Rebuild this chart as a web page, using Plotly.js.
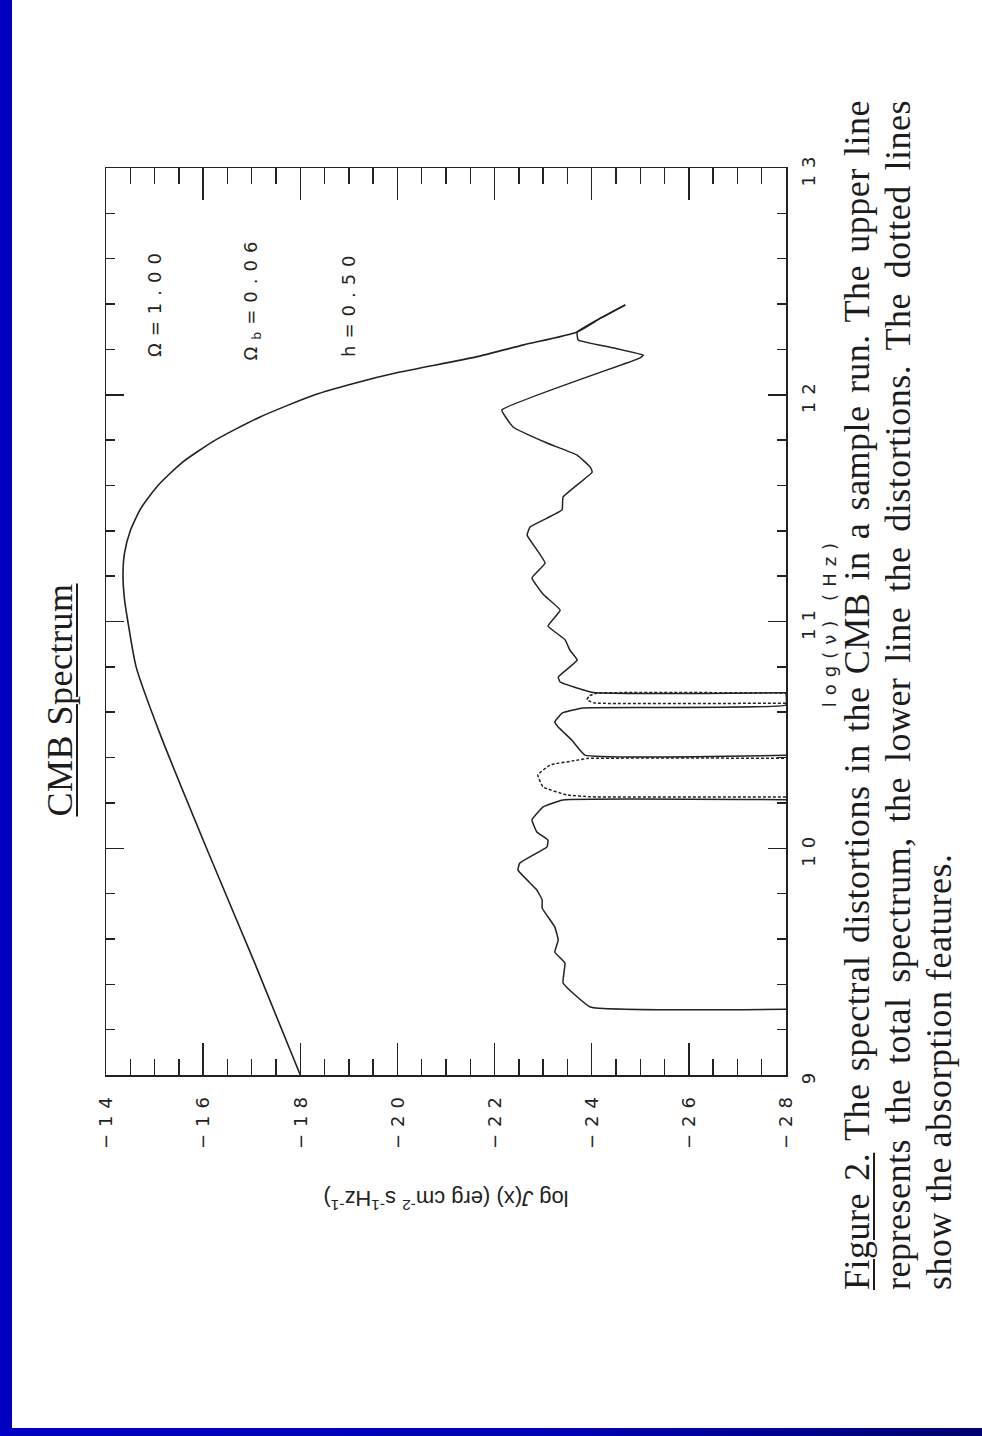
<!DOCTYPE html>
<html>
<head>
<meta charset="utf-8">
<script src="https://cdn.plot.ly/plotly-3.0.1.min.js"></script>
<style>
  html, body { margin: 0; padding: 0; background: #ffffff; width: 982px; height: 1436px; overflow: hidden; }
  #sheet {
    position: absolute; left: 0; top: 0; width: 1436px; height: 982px;
    transform-origin: 0 0; transform: translate(0, 1436px) rotate(-90deg);
    background: #ffffff;
  }
  #chart { position: absolute; left: 0; top: 0; width: 1436px; height: 982px; }
  .serif { position: absolute; font-family: "Liberation Serif", "Times New Roman", serif; font-size: 36px;
           line-height: 42px; color: #1c1c1c; letter-spacing: 0.5px; white-space: nowrap; }
  .heading { left: 586px; width: 300px; top: 39px; text-align: center; text-decoration: underline;
             text-underline-offset: 4px; text-decoration-thickness: 1.5px; }
  .cap { left: 146px; width: 1190px; }
  .cap.full { text-align: justify; text-align-last: justify; }
  .u { text-decoration: underline; text-underline-offset: 4px; text-decoration-thickness: 1.5px; }
  #sideband { position: absolute; left: 0; top: 0; width: 12px; height: 1436px; background: #0000c0; z-index: 5; }
  #footband { position: absolute; left: 0; top: 1428px; width: 982px; height: 8px; z-index: 5;
              background: linear-gradient(to right, #0000c4 0%, #0000b8 55%, #000070 100%); }
  /* wide-pitch plotting lettering */
  #chart .xtick text, #chart .ytick text, #chart text.annotation-text, #chart text.xtitle { letter-spacing: 7px; }
</style>
</head>
<body>
<div id="sheet">
  <div id="chart"></div>
  <div class="serif heading">CMB Spectrum</div>
  <div class="serif cap full" style="top:836px;"><span class="u">Figure 2.</span> The spectral distortions in the CMB in a sample run.  The upper line</div>
  <div class="serif cap full" style="top:877px;">represents the total spectrum, the lower line the distortions.  The dotted lines</div>
  <div class="serif cap" style="top:918px;">show the absorption features.</div>
</div>
<div id="sideband"></div>
<div id="footband"></div>

<script>
// log frequency (Hz) and log intensity of the total spectrum
const nuTotal = [9.0, 9.5, 10.0, 10.5, 10.8, 11.0, 11.1, 11.2, 11.3, 11.4, 11.5, 11.6, 11.7, 11.8, 11.9, 12.0, 12.05, 12.1, 12.166, 12.22, 12.277, 12.34, 12.396];
const jTotal  = [-18.0, -17.05, -16.07, -15.12, -14.62, -14.45, -14.38, -14.35, -14.38, -14.5, -14.72, -15.07, -15.56, -16.25, -17.15, -18.3, -19.1, -20.05, -21.6, -22.6, -23.7, -24.2, -24.69];

// distortion spectrum, split where it falls to the floor inside the absorption bands
const nuDistA = [9.29, 9.30, 9.406, 9.494, 9.542, 9.595, 9.653, 9.736, 9.772, 9.816, 9.904, 9.935, 10.006, 10.036, 10.072, 10.125, 10.182, 10.213, 10.214];
const jDistA  = [-28.0, -23.97, -23.41, -23.45, -23.24, -23.31, -23.24, -22.98, -22.98, -22.87, -22.48, -22.52, -23.08, -23.10, -22.87, -22.77, -23.0, -23.41, -28.0];
const nuDistB = [10.410, 10.411, 10.477, 10.535, 10.557, 10.596, 10.619, 10.632, 10.686];
const jDistB  = [-28.0, -23.86, -23.59, -23.31, -23.24, -23.39, -23.82, -28.0, -28.0];
const nuDistC = [10.686, 10.687, 10.733, 10.755, 10.830, 10.874, 10.92, 10.98, 11.05, 11.12, 11.192, 11.258, 11.381, 11.417, 11.456, 11.492, 11.549,
                 11.659, 11.681, 11.734, 11.787, 11.858, 11.933, 12.162, 12.175, 12.207, 12.242, 12.277, 12.34, 12.396];
const jDistC  = [-28.0, -24.03, -23.35, -23.31, -23.70, -23.55, -23.45, -23.1, -23.35, -23.0, -22.77, -23.04, -22.67, -22.73, -23.08, -23.39, -23.41,
                 -24.01, -23.97, -23.70, -23.08, -22.38, -22.15, -24.99, -25.06, -24.44, -23.72, -23.70, -24.2, -24.69];

// absorption feature profiles
const nuAbsA = [10.226, 10.227, 10.235, 10.27, 10.323, 10.367, 10.389, 10.396, 10.397];
const jAbsA  = [-28.0, -23.97, -23.49, -23.0, -22.89, -23.14, -23.72, -23.9, -28.0];
const nuAbsB = [10.640, 10.641, 10.655, 10.672, 10.684, 10.685];
const jAbsB  = [-28.0, -24.05, -23.9, -23.95, -24.1, -28.0];

// axis ticks
const nuTicks = [9, 10, 11, 12, 13];
const nuTickText = ['9', '10', '11', '12', '13'];
const jTicks = [-14, -16, -18, -20, -22, -24, -26, -28];
const jTickText = ['\u221214', '\u221216', '\u221218', '\u221220', '\u221222', '\u221224', '\u221226', '\u221228'];

// cosmological parameters of the run
const paramLabels = ['\u03A9=1.00', '\u03A9<sub>b</sub>=0.06', 'h=0.50'];
const paramLevels = [-15, -17, -19];

const ink = '#222222';
const plotFont = { family: 'DejaVu Sans, sans-serif', size: 18, color: ink };

function solid(x, y, w, smooth) {
  return { x: x, y: y, mode: 'lines', hoverinfo: 'skip',
           line: { color: ink, width: w, shape: 'spline', smoothing: smooth } };
}
function dotted(x, y) {
  return { x: x, y: y, mode: 'lines', hoverinfo: 'skip',
           line: { color: ink, width: 1.5, dash: '3px,2px', shape: 'spline', smoothing: 0.3 } };
}

const traces = [
  solid(nuTotal, jTotal, 1.6, 0.6),
  solid(nuDistA, jDistA, 1.5, 0.3),
  solid(nuDistB, jDistB, 1.5, 0.3),
  solid(nuDistC, jDistC, 1.5, 0.3),
  dotted(nuAbsA, jAbsA),
  dotted(nuAbsB, jAbsB)
];

const annotations = paramLabels.map((t, i) => ({
  text: t, x: 12.25, y: paramLevels[i], xref: 'x', yref: 'y',
  xanchor: 'left', yanchor: 'middle', showarrow: false, font: plotFont
}));

const layout = {
  width: 1436, height: 982,
  margin: { l: 361, r: 168, t: 106, b: 196, pad: 0 },
  paper_bgcolor: 'rgba(0,0,0,0)', plot_bgcolor: 'rgba(0,0,0,0)',
  showlegend: false,
  font: plotFont,
  xaxis: {
    range: [9, 13], tickmode: 'array', tickvals: nuTicks, ticktext: nuTickText,
    ticks: 'inside', ticklen: 18, tickwidth: 1.5, tickcolor: ink,
    minor: { dtick: 0.2, tick0: 9, ticks: 'inside', ticklen: 9, tickwidth: 1.5, tickcolor: ink, showgrid: false },
    showline: true, linecolor: ink, linewidth: 1.5, mirror: 'ticks',
    showgrid: false, zeroline: false, ticklabelstandoff: 6, tickfont: plotFont,
    title: { text: 'log(\u03BD) (Hz)', standoff: 0, font: plotFont }
  },
  yaxis: {
    range: [-28, -14], tickmode: 'array', tickvals: jTicks, ticktext: jTickText,
    ticks: 'inside', ticklen: 32, tickwidth: 1.5, tickcolor: ink,
    minor: { dtick: 0.5, tick0: -28, ticks: 'inside', ticklen: 16, tickwidth: 1.5, tickcolor: ink, showgrid: false },
    showline: true, linecolor: ink, linewidth: 1.5, mirror: 'ticks',
    showgrid: false, zeroline: false, ticklabelstandoff: 10, tickfont: plotFont,
    title: { text: 'log <i>J</i>(x) (erg cm<sup>-2</sup> s<sup>-1</sup>Hz<sup>-1</sup>)', standoff: 56,
             font: { family: 'Liberation Sans, Arial, sans-serif', size: 22, color: ink } }
  },
  annotations: annotations
};

Plotly.newPlot('chart', traces, layout, { displayModeBar: false, staticPlot: true });
</script>
</body>
</html>
